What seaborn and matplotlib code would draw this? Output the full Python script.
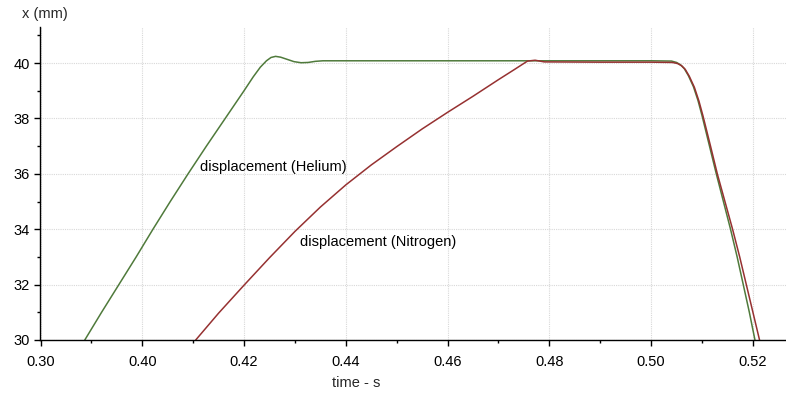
import matplotlib
matplotlib.use("Agg")
import matplotlib.pyplot as plt
from matplotlib.ticker import MultipleLocator, FixedLocator
import pandas as pd
import seaborn as sns

# displacement traces (time in s, x in mm)
helium_t = [0.3887, 0.3920, 0.3954, 0.3988, 0.4021, 0.4055, 0.4090, 0.4126, 0.4163,
            0.4200, 0.4218, 0.4232, 0.4244, 0.4253, 0.4262, 0.4272, 0.4285, 0.4298,
            0.4312, 0.4326, 0.4340, 0.4355, 0.4600, 0.4800, 0.5000, 0.5040, 0.5050,
            0.5058, 0.5065, 0.5073, 0.5083, 0.5092, 0.5100, 0.5114, 0.5128, 0.5142,
            0.5156, 0.5169, 0.5181, 0.5193, 0.5204]
helium_x = [30.0, 31.0, 32.0, 33.0, 34.0, 35.0, 36.0, 37.0, 38.0,
            39.0, 39.5, 39.85, 40.08, 40.2, 40.24, 40.21, 40.13, 40.05,
            40.01, 40.02, 40.06, 40.08, 40.08, 40.08, 40.08, 40.07, 40.02,
            39.93, 39.8, 39.55, 39.15, 38.65, 38.1, 37.05, 36.0, 35.0,
            34.0, 33.0, 32.0, 31.0, 30.0]

nitrogen_t = [0.4105, 0.4150, 0.4200, 0.4250, 0.4300, 0.4350, 0.4400, 0.4450, 0.4500,
              0.4550, 0.4600, 0.4650, 0.4700, 0.4730, 0.4757, 0.4772, 0.4790, 0.4900,
              0.5000, 0.5042, 0.5052, 0.5060, 0.5067, 0.5075, 0.5085, 0.5094, 0.5102,
              0.5116, 0.5130, 0.5145, 0.5160, 0.5174, 0.5187, 0.5200, 0.5213]
nitrogen_x = [30.0, 30.97, 31.98, 32.97, 33.92, 34.8, 35.6, 36.32, 36.98,
              37.62, 38.22, 38.8, 39.4, 39.75, 40.07, 40.1, 40.04, 40.03,
              40.03, 40.02, 39.98, 39.9, 39.77, 39.52, 39.12, 38.62, 38.08,
              37.05, 36.0, 35.0, 34.0, 33.0, 32.0, 31.0, 30.0]

x_ticks = [0.38, 0.40, 0.42, 0.44, 0.46, 0.48, 0.50, 0.52]
x_tick_labels = ["0.30", "0.40", "0.42", "0.44", "0.46", "0.48", "0.50", "0.52"]
y_ticks = [30, 32, 34, 36, 38, 40]

df = pd.concat([
    pd.DataFrame({"t": helium_t, "x": helium_x, "gas": "Helium"}),
    pd.DataFrame({"t": nitrogen_t, "x": nitrogen_x, "gas": "Nitrogen"}),
])

sns.set_theme(style="ticks")
plt.rcParams["font.family"] = ["Liberation Sans", "DejaVu Sans"]

fig = plt.figure(figsize=(7.86, 3.93), dpi=100)
ax = fig.add_axes([40 / 786, 1 - 340 / 393, 1 - 40 / 786, (340 - 27) / 393])

palette = {"Helium": "#4f7a3b", "Nitrogen": "#963131"}
sns.lineplot(data=df, x="t", y="x", hue="gas", palette=palette, sort=False,
             estimator=None, legend=False, linewidth=1.1, ax=ax)

ax.set_xlim(0.3799, 0.5265)
ax.set_ylim(30, 41.3)
ax.xaxis.set_major_locator(FixedLocator(x_ticks))
ax.set_xticklabels(x_tick_labels)
ax.xaxis.set_minor_locator(MultipleLocator(0.01))
ax.yaxis.set_major_locator(FixedLocator(y_ticks))
ax.yaxis.set_minor_locator(MultipleLocator(1))

ax.grid(True, which="major", color="#d8d8d8", linestyle=(0, (1, 1)), linewidth=0.8)
ax.set_axisbelow(True)

for side in ("top", "right"):
    ax.spines[side].set_visible(False)
for side in ("left", "bottom"):
    ax.spines[side].set_color("black")
    ax.spines[side].set_linewidth(1.0)

ax.tick_params(axis="both", which="major", length=4.5, width=1, color="black",
               labelsize=10.5, labelcolor="black")
ax.tick_params(axis="x", which="major", pad=6)
ax.tick_params(axis="y", which="major", pad=3)
ax.tick_params(axis="both", which="minor", length=2.5, width=1, color="black")
ax.set_xlabel("")
ax.set_ylabel("")

ax.text(0.4113, 36.24, "displacement (Helium)", fontsize=10.5, color="black",
        ha="left", va="center")
ax.text(0.4310, 33.53, "displacement (Nitrogen)", fontsize=10.5, color="black",
        ha="left", va="center")

fig.text(22 / 786, 1 - 14 / 393, "x (mm)", fontsize=10.5, ha="left", va="center")
fig.text(356 / 786, 1 - 383 / 393, "time - s", fontsize=10.5, ha="center", va="center")

fig.savefig("out.png", dpi=100)
